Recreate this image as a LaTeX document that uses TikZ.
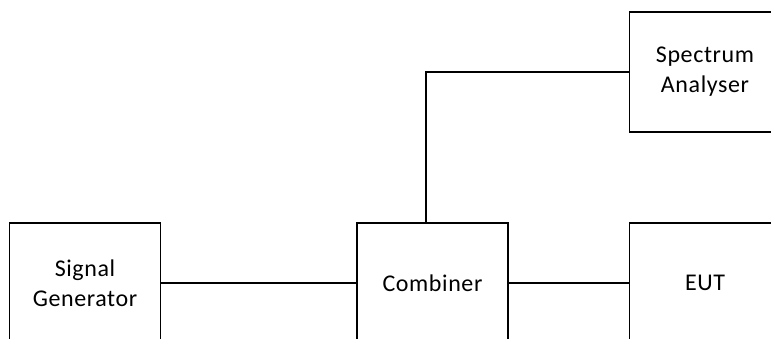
\documentclass[tikz,border=0pt]{standalone}
\usepackage{fontspec}
\setmainfont[LetterSpace=2.5]{Carlito}
\begin{document}
\begin{tikzpicture}[x=1pt,y=1pt,
  blk/.style={draw=black,line width=1.6pt,rectangle,minimum width=151pt,minimum height=120pt,
    inner sep=0pt,align=center,font=\fontsize{24}{30}\selectfont},
  wire/.style={draw=black,line width=1.6pt}]
\useasboundingbox (0,0) rectangle (771,338);
\clip (0,0) rectangle (771,338);
\node[blk] (sg) at (85,55) {Signal\\Generator};
\node[blk] (cb) at (432.5,55) {Combiner};
\node[blk] (eut) at (705,55) {EUT};
\node[blk] (sa) at (705,266) {Spectrum\\Analyser};
\draw[wire] (sg.east) -- (cb.west);
\draw[wire] (cb.east) -- (eut.west);
\draw[wire] ([xshift=-6.5pt]cb.north) |- (sa.west);
\end{tikzpicture}
\end{document}
